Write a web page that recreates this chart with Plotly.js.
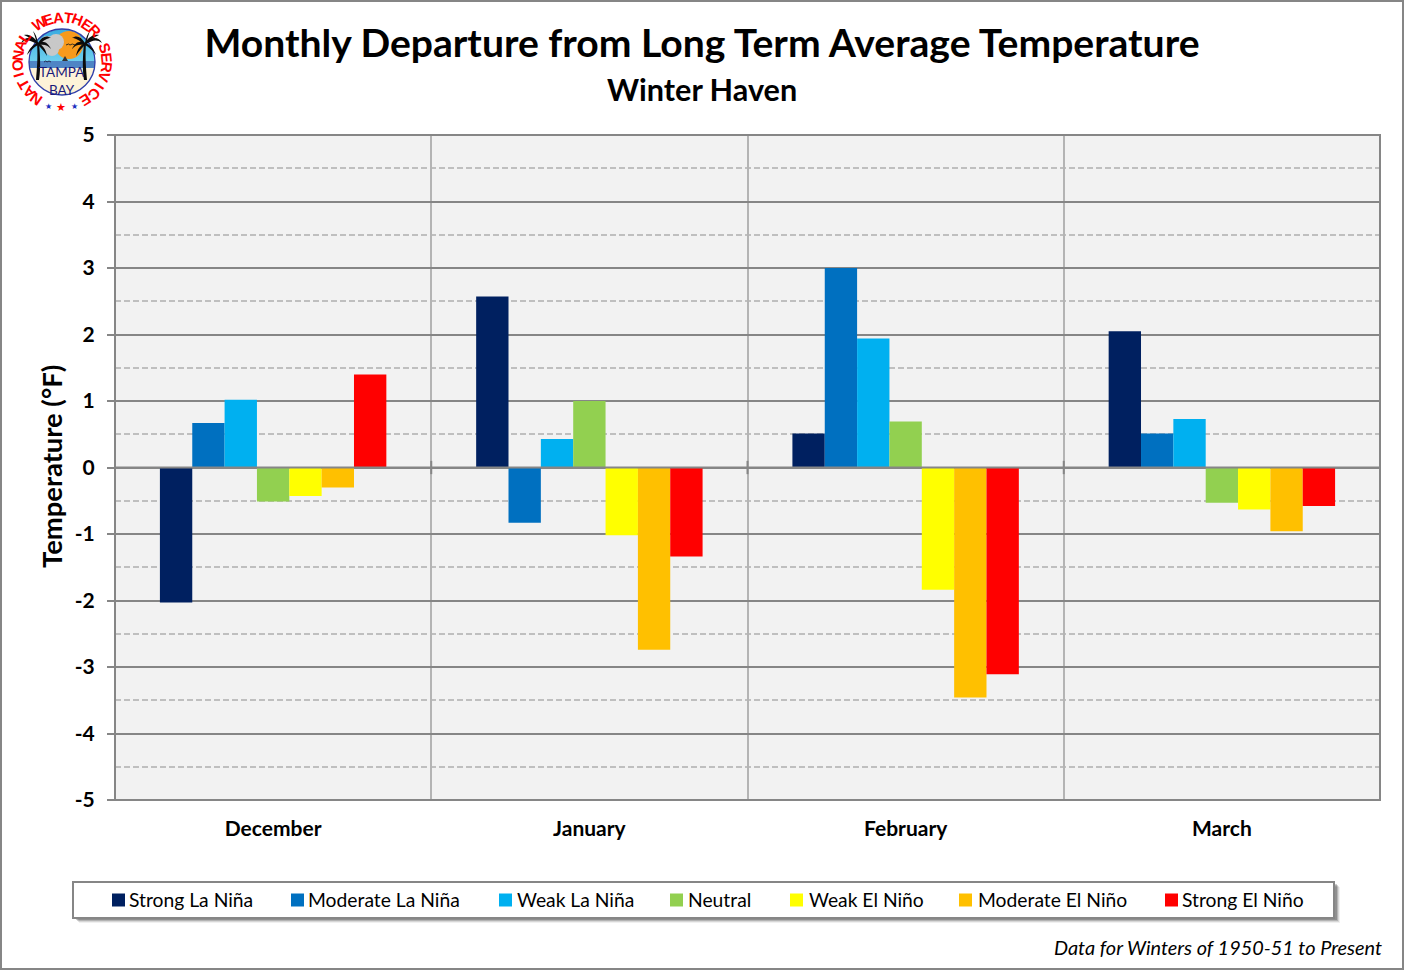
<!DOCTYPE html>
<html>
<head>
<meta charset="utf-8">
<script src="https://cdn.plot.ly/plotly-3.0.1.min.js"></script>
<style>html,body{margin:0;padding:0;background:#fff}#chart{width:1404px;height:970px}</style>
</head>
<body>
<div id="chart"></div>
<script>
const months = ["December", "January", "February", "March"];
const seriesNames = ["Strong La Niña", "Moderate La Niña", "Weak La Niña", "Neutral", "Weak El Niño", "Moderate El Niño", "Strong El Niño"];
const seriesColors = ["#002060", "#0070C0", "#00B0F0", "#92D050", "#FFFF00", "#FFC000", "#FF0000"];
const strongLaNina = [-2.03, 2.57, 0.51, 2.05];
const moderateLaNina = [0.67, -0.83, 3.0, 0.51];
const weakLaNina = [1.02, 0.43, 1.94, 0.73];
const neutral = [-0.51, 1.0, 0.69, -0.53];
const weakElNino = [-0.43, -1.02, -1.84, -0.63];
const moderateElNino = [-0.3, -2.74, -3.46, -0.96];
const strongElNino = [1.4, -1.34, -3.11, -0.58];
const seriesValues = [strongLaNina, moderateLaNina, weakLaNina, neutral, weakElNino, moderateElNino, strongElNino];
const yTickValues = [-5, -4, -3, -2, -1, 0, 1, 2, 3, 4, 5];
const yTickLabels = ["-5", "-4", "-3", "-2", "-1", "0", "1", "2", "3", "4", "5"];

const FONT = "Lato, Carlito, sans-serif";
const GRID = "#868686";
const X = x => (x - 115) / 1265;
const Y = y => (800 - y) / 665;

const data = seriesNames.map((name, i) => ({
  type: "bar", name, x: months, y: seriesValues[i],
  marker: {color: seriesColors[i], line: {width: 0}},
  hoverinfo: "x+y+name"
}));

function rect(x0, y0, x1, y1, o) {
  return Object.assign({type: "rect", xref: "paper", yref: "paper",
    x0: X(x0), x1: X(x1), y0: Y(y0), y1: Y(y1), layer: "below", line: {width: 0}}, o);
}
const shapes = [
  rect(1, 1, 1403, 969, {line: {color: GRID, width: 2}, fillcolor: "rgba(0,0,0,0)"}),
  rect(79, 887, 1340, 923, {fillcolor: "rgba(0,0,0,0.06)"}),
  rect(78, 886, 1339, 922, {fillcolor: "rgba(0,0,0,0.10)"}),
  rect(77, 885, 1338, 921, {fillcolor: "rgba(0,0,0,0.16)"}),
  rect(76, 884, 1337, 920, {fillcolor: "rgba(0,0,0,0.2)"}),
  rect(73, 882, 1334, 918, {fillcolor: "#ffffff", line: {color: GRID, width: 2}}),
  {type: "rect", xref: "paper", yref: "paper", x0: 0, x1: 1, y0: 0, y1: 1, layer: "above", fillcolor: "rgba(0,0,0,0)", line: {color: GRID, width: 2}},
  {type: "line", xref: "paper", yref: "y", x0: 0, x1: 1, y0: 0, y1: 0, layer: "above", line: {color: GRID, width: 2}},
  ...[0.5, 1.5, 2.5].map(b => ({type: "line", xref: "x", yref: "y", x0: b, x1: b, y0: -0.1, y1: 0.1, layer: "above", line: {color: GRID, width: 2}}))
];

const ann = (text, x, y, size, extra) => Object.assign({
  text, xref: "paper", yref: "paper", x: X(x), y: Y(y), showarrow: false,
  xanchor: "center", yanchor: "middle", font: {family: FONT, size, color: "#000"}
}, extra);

const annotations = [
  ann("<b>Winter Haven</b>", 702, 89, 30.6),
  ann("<i>Data for Winters of 1950-51 to Present</i>", 1384, 947, 19.9, {xanchor: "right"}),
  ann("<b>Temperature (°F)</b>", 52, 467, 27.4, {textangle: -90})
];

// logo lettering
const ring = "NATIONAL WEATHER SERVICE";
const cx = 62, cy = 62, rad = 45;
[...ring].forEach((c, i) => {
  if (c === " ") return;
  const a = -145 + i * 293 / (ring.length - 1);
  const r = a * Math.PI / 180;
  annotations.push({text: "<b>" + c + "</b>", xref: "paper", yref: "paper",
    x: X(cx + rad * Math.sin(r)), y: Y(cy - rad * Math.cos(r)), showarrow: false,
    xanchor: "center", yanchor: "middle", textangle: a, borderpad: 0,
    font: {family: "'Liberation Sans Narrow', 'Liberation Sans', sans-serif", size: 15, color: "#ff0000"}});
});
annotations.push(ann("TAMPA<br>BAY", 62, 80.5, 13.5, {borderpad: 0, font: {family: FONT, size: 13.5, color: "#1a1a7a"}}));
[[48.5, 106, 8, "#1a2fc0"], [61, 108, 11, "#ff0000"], [74.5, 106, 8, "#1a2fc0"]].forEach(s => {
  annotations.push(ann("★", s[0], s[1], s[2], {font: {family: "'DejaVu Sans'", size: s[2], color: s[3]}}));
});

const palm = (tx, flip) => `<g transform="translate(${tx},2) scale(${flip},1)" fill="#0c0c0c">
<path d="M0 41 C1 55 0 66 -1 78 L2 78 C4 66 3 52 2 41Z"/>
<path d="M1 41 C-5 34 -13 35 -16 41 C-11 37 -6 38 1 43Z"/>
<path d="M1 41 C-3 34 -9 32 -13 33 C-8 35 -4 38 0 42Z"/>
<path d="M1 41 C0 35 -2 31 -4 29 C-2 34 -1 38 0 42Z"/>
<path d="M1 41 C5 34 10 33 14 36 C10 36 7 38 2 43Z"/>
<path d="M1 41 C7 38 11 41 14 47 C11 43 7 42 2 43Z"/>
<path d="M1 41 C-4 42 -8 47 -10 53 C-6 48 -3 45 1 43Z"/>
<path d="M1 41 C6 43 9 48 10 54 C7 49 4 46 1 43Z"/></g>`;
const logoSvg = `<svg xmlns="http://www.w3.org/2000/svg" width="124" height="124" viewBox="0 0 124 124">
<defs><clipPath id="c"><circle cx="62" cy="62" r="33"/></clipPath>
<linearGradient id="s" x1="0" y1="0" x2="0" y2="1"><stop offset="0" stop-color="#2aa0dc"/><stop offset="1" stop-color="#6fd0ee"/></linearGradient></defs>
<g clip-path="url(#c)">
<rect x="20" y="20" width="84" height="42" fill="url(#s)"/>
<circle cx="69" cy="45" r="14" fill="#f79a1c"/>
<g fill="#c8c8c8"><circle cx="47" cy="43" r="7"/><circle cx="56" cy="42" r="8"/><circle cx="52" cy="49" r="7"/></g>
<rect x="20" y="61" width="84" height="7" fill="#4e85c5"/>
<path d="M62 61 l3 -5 l3 5z" fill="#333"/>
<rect x="20" y="68" width="84" height="30" fill="#fdf3d8"/>
<path d="M66 45 q3 -2 4 0 q2 -2 5 0" fill="none" stroke="#222" stroke-width="0.9"/>
<path d="M44 62 q2 -2 3 0 q2 -2 4 0" fill="none" stroke="#224" stroke-width="0.9"/>
</g>
<circle cx="62" cy="62" r="33" fill="none" stroke="#2f3fa8" stroke-width="1.3"/>
${palm(37, 1)}${palm(86, -1)}
</svg>`;
const logoUri = "data:image/svg+xml;charset=utf-8," + encodeURIComponent(logoSvg);

const layout = {
  width: 1404, height: 970,
  margin: {l: 115, r: 24, t: 135, b: 170, pad: 0},
  paper_bgcolor: "#ffffff", plot_bgcolor: "#f2f2f2",
  font: {family: FONT, color: "#000"},
  title: {text: "<b>Monthly Departure from Long Term Average Temperature</b>",
    xref: "paper", yref: "container", x: X(702), xanchor: "center", y: 1 - 43 / 970, yanchor: "middle",
    font: {family: FONT, size: 39.1, color: "#000"}},
  barmode: "group", bargap: 0.284, bargroupgap: 0,
  showlegend: true,
  legend: {orientation: "h", x: X(100), xanchor: "left", y: Y(884), yanchor: "top",
    bgcolor: "rgba(0,0,0,0)", borderwidth: 0, font: {family: FONT, size: 19.3, color: "#000"}},
  xaxis: {type: "category", categoryorder: "array", categoryarray: months,
    tickson: "boundaries", ticks: "", showgrid: true, gridcolor: "#b4b4b4", gridwidth: 2,
    showline: false, automargin: false,
    tickfont: {family: FONT, size: 21, color: "#000", weight: "bold"}, ticklabelstandoff: 14},
  yaxis: {range: [-5, 5], tickmode: "array", tickvals: yTickValues, ticktext: yTickLabels,
    ticks: "outside", ticklen: 7, tickwidth: 2, tickcolor: GRID,
    showgrid: true, gridcolor: GRID, gridwidth: 2, zeroline: false,
    showline: false, automargin: false,
    tickfont: {family: FONT, size: 21, color: "#000", weight: "bold"}, ticklabelstandoff: 8,
    minor: {tickmode: "linear", tick0: 0, dtick: 0.5, showgrid: true, griddash: "6px,3px", gridcolor: "#bfbfbf", gridwidth: 2, ticks: ""}},
  shapes, annotations,
  images: [{source: logoUri, xref: "paper", yref: "paper", x: X(0), y: Y(0), sizex: 124 / 1265, sizey: 124 / 665,
    xanchor: "left", yanchor: "top", sizing: "stretch", layer: "below"}]
};

const swatchLefts = [112, 291, 499, 670, 790, 959, 1165];
const textLefts = [129, 308, 517, 688, 809, 978, 1182];
const SWATCH_MID_Y = 900;
Plotly.newPlot("chart", data, layout, {displayModeBar: false, responsive: false}).then(gd => {
  const box = gd.querySelector(".legend .scrollbox");
  if (box) box.removeAttribute("clip-path");
  gd.querySelectorAll(".legend .traces").forEach((tr, i) => {
    const p = tr.querySelector(".legendpoints path") || tr.querySelector("path");
    p.setAttribute("d", "M6.5,6.5H-6.5V-6.5H6.5Z");
    const r = p.getBoundingClientRect();
    const m = (tr.getAttribute("transform") || "").match(/translate\(([-\d.]+)[ ,]*([-\d.]*)/);
    const tx = parseFloat(m[1]), ty = parseFloat(m[2] || 0);
    const dx = swatchLefts[i] - r.left, dy = SWATCH_MID_Y - (r.top + r.height / 2);
    tr.setAttribute("transform", `translate(${tx + dx},${ty + dy})`);
    const t = tr.querySelector("text.legendtext");
    const tb = t.getBoundingClientRect();
    const x0 = parseFloat(t.getAttribute("x")) || 0;
    const newX = x0 + textLefts[i] - tb.left;
    t.setAttribute("x", newX);
    t.setAttribute("y", (parseFloat(t.getAttribute("y")) || 0) - 1);
    t.querySelectorAll("tspan[x]").forEach(s => s.setAttribute("x", newX));
  });
});
</script>
</body>
</html>
